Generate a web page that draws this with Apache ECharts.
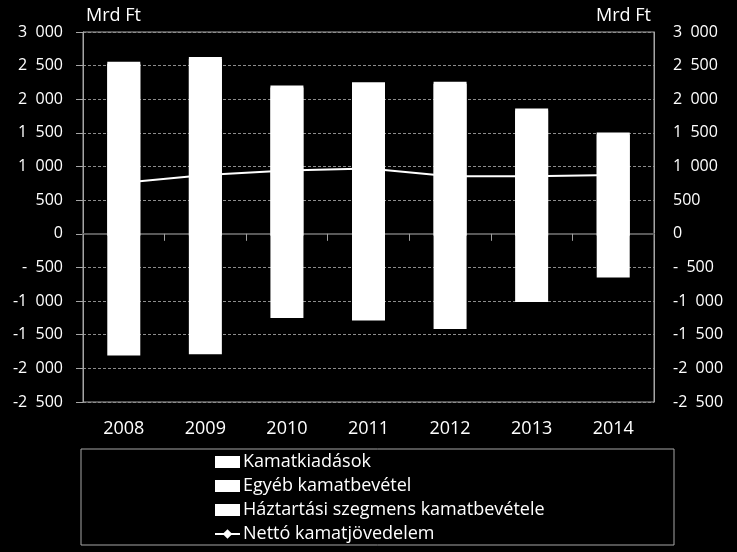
<!DOCTYPE html>
<html>
<head>
<meta charset="utf-8">
<script src="https://cdn.jsdelivr.net/npm/echarts@6/dist/echarts.min.js"></script>
<style>
html,body{margin:0;padding:0;background:#000;}
#chart{width:737px;height:552px;}
</style>
</head>
<body>
<div id="chart"></div>
<script>
const categories = ['2008', '2009', '2010', '2011', '2012', '2013', '2014'];
const kamatkiadasok = [-1810, -1790, -1250, -1290, -1415, -1015, -650];
const egyebKamatbevetel = [1506, 1550, 1304, 1354, 1379, 1142, 905];
const haztartasiKamatbevetel = [1050, 1080, 900, 900, 880, 720, 600];
const nettoKamatjovedelem = [760, 875, 940, 970, 855, 855, 875];
const axisMin = -2500, axisMax = 3000, axisStep = 500;
const unitLabel = 'Mrd Ft';

const FONT = '"Open Sans"';

function fmt(v) {
  const a = Math.abs(v);
  const s = String(a).replace(/\B(?=(\d{3})+(?!\d))/g, '  ');
  if (v < 0) return (a < 1000 ? '-  ' : '-') + s;
  return s;
}

const chart = echarts.init(document.getElementById('chart'));
const yAxisCommon = {
  type: 'value', min: axisMin, max: axisMax, interval: axisStep,
  axisLine: {show: true, lineStyle: {color: '#a6a6a6', width: 1}},
  splitLine: {show: true, lineStyle: {color: '#8c8c8c', width: 1, type: [3, 2]}},
  axisLabel: {color: '#ffffff', fontSize: 16, fontFamily: FONT, formatter: fmt, margin: 20}
};
// white downward "shadow" hides anti-aliasing seams between adjoining stacked segments
const seamStyle = {color: '#ffffff', shadowColor: '#ffffff', shadowBlur: 0, shadowOffsetX: 0, shadowOffsetY: 2};
chart.setOption({
  backgroundColor: '#000000',
  animation: false,
  grid: {left: 83, right: 83, top: 32, bottom: 150, show: true, borderColor: '#a6a6a6', borderWidth: 1, backgroundColor: 'transparent'},
  xAxis: [
    {
      type: 'category', data: categories, position: 'bottom',
      axisLine: {onZero: true, lineStyle: {color: '#595959', width: 2}},
      axisTick: {show: true, length: 7, lineStyle: {color: '#a0a0a0'}},
      axisLabel: {show: false}, z: 1
    },
    {
      type: 'category', data: categories, position: 'bottom',
      axisLine: {show: false, onZero: false}, axisTick: {show: false},
      axisLabel: {color: '#ffffff', fontSize: 18, fontFamily: FONT, margin: 18}
    }
  ],
  yAxis: [
    Object.assign({}, yAxisCommon, {position: 'left', axisTick: {show: true, length: 7, lineStyle: {color: '#a6a6a6'}}}),
    Object.assign({}, yAxisCommon, {position: 'right', axisTick: {show: false}, splitLine: {show: false},
      axisLabel: Object.assign({}, yAxisCommon.axisLabel, {margin: 19})})
  ],
  legend: {
    orient: 'vertical', left: 214, top: 453, itemWidth: 25, itemHeight: 12, itemGap: 6,
    padding: 0,
    textStyle: {color: '#ffffff', fontSize: 18, fontFamily: FONT, lineHeight: 18, padding: [0, 0, 0, -2]},
    data: [
      {name: 'Kamatkiadások', icon: 'rect', itemStyle: {shadowOffsetY: 0, shadowColor: 'transparent'}},
      {name: 'Egyéb kamatbevétel', icon: 'rect', itemStyle: {shadowOffsetY: 0, shadowColor: 'transparent'}},
      {name: 'Háztartási szegmens kamatbevétele', icon: 'rect', itemStyle: {shadowOffsetY: 0, shadowColor: 'transparent'}},
      {name: 'Nettó kamatjövedelem'}
    ]
  },
  graphic: [
    {type: 'rect', shape: {x: 81, y: 449, width: 593, height: 96}, style: {fill: 'none', stroke: '#a6a6a6', lineWidth: 1}, silent: true},
    {type: 'text', x: 86, y: 16, style: {text: unitLabel, fill: '#ffffff', font: '18px ' + FONT, textAlign: 'left', textVerticalAlign: 'middle'}},
    {type: 'text', x: 651, y: 16, style: {text: unitLabel, fill: '#ffffff', font: '18px ' + FONT, textAlign: 'right', textVerticalAlign: 'middle'}}
  ],
  series: [
    {name: 'Nettó kamatjövedelem', type: 'line', data: nettoKamatjovedelem, z: 1,
      lineStyle: {color: '#ffffff', width: 2}, itemStyle: {color: '#ffffff'},
      symbol: 'diamond', symbolSize: 8, showSymbol: true},
    {name: 'Kamatkiadások', type: 'bar', stack: 'total', data: kamatkiadasok, barWidth: 33, z: 3,
      itemStyle: {color: '#ffffff'}},
    {name: 'Egyéb kamatbevétel', type: 'bar', stack: 'total', data: egyebKamatbevetel, barWidth: 33, z: 3,
      itemStyle: seamStyle},
    {name: 'Háztartási szegmens kamatbevétele', type: 'bar', stack: 'total', data: haztartasiKamatbevetel, barWidth: 33, z: 3,
      itemStyle: seamStyle}
  ]
});
</script>
</body>
</html>
